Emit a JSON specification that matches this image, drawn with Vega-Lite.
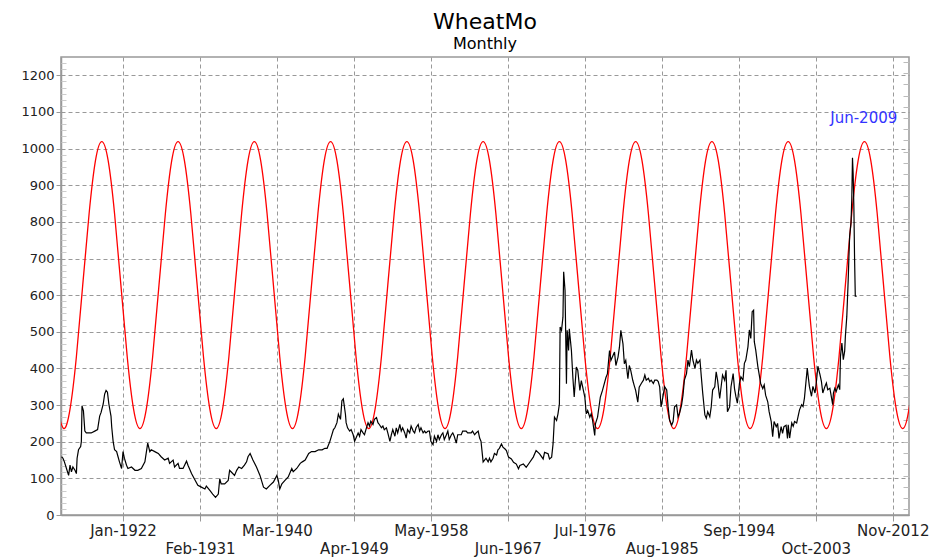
{
  "$schema": "https://vega.github.io/schema/vega-lite/v6.json",
  "width": 848,
  "height": 458,
  "autosize": {"type": "none"},
  "padding": {"left": 61, "top": 57, "right": 26, "bottom": 45},
  "background": "white",
  "title": {
    "text": "WheatMo",
    "subtitle": "Monthly",
    "anchor": "middle",
    "font": "DejaVu Sans",
    "fontSize": 22,
    "fontWeight": "normal",
    "color": "#000000",
    "subtitleFont": "DejaVu Sans",
    "subtitleFontSize": 16,
    "subtitleColor": "#000000",
    "subtitlePadding": 2,
    "offset": 4
  },
  "config": {
    "view": {"stroke": "#999999", "strokeWidth": 1.5}
  },
  "datasets": {
    "cycle": [
      {"date": "1914-04", "value": 289}, {"date": "1915-01", "value": 236}, {"date": "1915-10", "value": 289}, {"date": "1916-07", "value": 432},
      {"date": "1917-04", "value": 628}, {"date": "1918-01", "value": 823}, {"date": "1918-10", "value": 967}, {"date": "1919-07", "value": 1019},
      {"date": "1920-04", "value": 967}, {"date": "1921-01", "value": 823}, {"date": "1921-10", "value": 628}, {"date": "1922-07", "value": 432},
      {"date": "1923-04", "value": 289}, {"date": "1924-01", "value": 236}, {"date": "1924-10", "value": 289}, {"date": "1925-07", "value": 432},
      {"date": "1926-04", "value": 628}, {"date": "1927-01", "value": 823}, {"date": "1927-10", "value": 967}, {"date": "1928-07", "value": 1019},
      {"date": "1929-04", "value": 967}, {"date": "1930-01", "value": 823}, {"date": "1930-10", "value": 628}, {"date": "1931-07", "value": 432},
      {"date": "1932-04", "value": 289}, {"date": "1933-01", "value": 236}, {"date": "1933-10", "value": 289}, {"date": "1934-07", "value": 432},
      {"date": "1935-04", "value": 628}, {"date": "1936-01", "value": 823}, {"date": "1936-10", "value": 967}, {"date": "1937-07", "value": 1019},
      {"date": "1938-04", "value": 967}, {"date": "1939-01", "value": 823}, {"date": "1939-10", "value": 628}, {"date": "1940-07", "value": 432},
      {"date": "1941-04", "value": 289}, {"date": "1942-01", "value": 236}, {"date": "1942-10", "value": 289}, {"date": "1943-07", "value": 432},
      {"date": "1944-04", "value": 628}, {"date": "1945-01", "value": 823}, {"date": "1945-10", "value": 967}, {"date": "1946-07", "value": 1019},
      {"date": "1947-04", "value": 967}, {"date": "1948-01", "value": 823}, {"date": "1948-10", "value": 628}, {"date": "1949-07", "value": 432},
      {"date": "1950-04", "value": 289}, {"date": "1951-01", "value": 236}, {"date": "1951-10", "value": 289}, {"date": "1952-07", "value": 432},
      {"date": "1953-04", "value": 628}, {"date": "1954-01", "value": 823}, {"date": "1954-10", "value": 967}, {"date": "1955-07", "value": 1019},
      {"date": "1956-04", "value": 967}, {"date": "1957-01", "value": 823}, {"date": "1957-10", "value": 628}, {"date": "1958-07", "value": 432},
      {"date": "1959-04", "value": 289}, {"date": "1960-01", "value": 236}, {"date": "1960-10", "value": 289}, {"date": "1961-07", "value": 432},
      {"date": "1962-04", "value": 628}, {"date": "1963-01", "value": 823}, {"date": "1963-10", "value": 967}, {"date": "1964-07", "value": 1019},
      {"date": "1965-04", "value": 967}, {"date": "1966-01", "value": 823}, {"date": "1966-10", "value": 628}, {"date": "1967-07", "value": 432},
      {"date": "1968-04", "value": 289}, {"date": "1969-01", "value": 236}, {"date": "1969-10", "value": 289}, {"date": "1970-07", "value": 432},
      {"date": "1971-04", "value": 628}, {"date": "1972-01", "value": 823}, {"date": "1972-10", "value": 967}, {"date": "1973-07", "value": 1019},
      {"date": "1974-04", "value": 967}, {"date": "1975-01", "value": 823}, {"date": "1975-10", "value": 628}, {"date": "1976-07", "value": 432},
      {"date": "1977-04", "value": 289}, {"date": "1978-01", "value": 236}, {"date": "1978-10", "value": 289}, {"date": "1979-07", "value": 432},
      {"date": "1980-04", "value": 628}, {"date": "1981-01", "value": 823}, {"date": "1981-10", "value": 967}, {"date": "1982-07", "value": 1019},
      {"date": "1983-04", "value": 967}, {"date": "1984-01", "value": 823}, {"date": "1984-10", "value": 628}, {"date": "1985-07", "value": 432},
      {"date": "1986-04", "value": 289}, {"date": "1987-01", "value": 236}, {"date": "1987-10", "value": 289}, {"date": "1988-07", "value": 432},
      {"date": "1989-04", "value": 628}, {"date": "1990-01", "value": 823}, {"date": "1990-10", "value": 967}, {"date": "1991-07", "value": 1019},
      {"date": "1992-04", "value": 967}, {"date": "1993-01", "value": 823}, {"date": "1993-10", "value": 628}, {"date": "1994-07", "value": 432},
      {"date": "1995-04", "value": 289}, {"date": "1996-01", "value": 236}, {"date": "1996-10", "value": 289}, {"date": "1997-07", "value": 432},
      {"date": "1998-04", "value": 628}, {"date": "1999-01", "value": 823}, {"date": "1999-10", "value": 967}, {"date": "2000-07", "value": 1019},
      {"date": "2001-04", "value": 967}, {"date": "2002-01", "value": 823}, {"date": "2002-10", "value": 628}, {"date": "2003-07", "value": 432},
      {"date": "2004-04", "value": 289}, {"date": "2005-01", "value": 236}, {"date": "2005-10", "value": 289}, {"date": "2006-07", "value": 432},
      {"date": "2007-04", "value": 628}, {"date": "2008-01", "value": 823}, {"date": "2008-10", "value": 967}, {"date": "2009-07", "value": 1019},
      {"date": "2010-04", "value": 967}, {"date": "2011-01", "value": 823}, {"date": "2011-10", "value": 628}, {"date": "2012-07", "value": 432},
      {"date": "2013-04", "value": 289}, {"date": "2014-01", "value": 236}, {"date": "2014-10", "value": 289}, {"date": "2015-07", "value": 432}
    ],
    "wheat": [
      {"date": "1914-10", "value": 159}, {"date": "1914-12", "value": 155}, {"date": "1915-02", "value": 145}, {"date": "1915-05", "value": 127},
      {"date": "1915-08", "value": 108}, {"date": "1915-10", "value": 136}, {"date": "1915-12", "value": 118}, {"date": "1916-02", "value": 131},
      {"date": "1916-05", "value": 122}, {"date": "1916-07", "value": 113}, {"date": "1916-08", "value": 155}, {"date": "1916-10", "value": 178},
      {"date": "1917-01", "value": 187}, {"date": "1917-02", "value": 201}, {"date": "1917-03", "value": 298}, {"date": "1917-05", "value": 284},
      {"date": "1917-07", "value": 229}, {"date": "1917-09", "value": 224}, {"date": "1918-04", "value": 224}, {"date": "1918-09", "value": 229},
      {"date": "1919-01", "value": 233}, {"date": "1919-04", "value": 270}, {"date": "1919-06", "value": 280}, {"date": "1919-09", "value": 303},
      {"date": "1919-11", "value": 330}, {"date": "1920-01", "value": 340}, {"date": "1920-03", "value": 335}, {"date": "1920-05", "value": 303},
      {"date": "1920-08", "value": 270}, {"date": "1920-09", "value": 240}, {"date": "1920-11", "value": 201}, {"date": "1921-01", "value": 178},
      {"date": "1921-04", "value": 173}, {"date": "1921-06", "value": 159}, {"date": "1921-08", "value": 145}, {"date": "1921-11", "value": 127},
      {"date": "1922-01", "value": 173}, {"date": "1922-03", "value": 155}, {"date": "1922-06", "value": 136}, {"date": "1922-08", "value": 127},
      {"date": "1923-01", "value": 131}, {"date": "1923-06", "value": 122}, {"date": "1923-10", "value": 122}, {"date": "1924-03", "value": 127},
      {"date": "1924-08", "value": 145}, {"date": "1924-12", "value": 196}, {"date": "1925-03", "value": 173}, {"date": "1925-05", "value": 178},
      {"date": "1925-10", "value": 173}, {"date": "1926-03", "value": 168}, {"date": "1926-07", "value": 159}, {"date": "1926-12", "value": 150},
      {"date": "1927-05", "value": 155}, {"date": "1927-07", "value": 141}, {"date": "1927-12", "value": 150}, {"date": "1928-02", "value": 131},
      {"date": "1928-07", "value": 141}, {"date": "1928-09", "value": 127}, {"date": "1929-02", "value": 127}, {"date": "1929-07", "value": 147},
      {"date": "1929-09", "value": 136}, {"date": "1929-11", "value": 127}, {"date": "1930-02", "value": 113}, {"date": "1930-06", "value": 99},
      {"date": "1930-11", "value": 81}, {"date": "1931-04", "value": 76}, {"date": "1931-09", "value": 71}, {"date": "1931-11", "value": 79},
      {"date": "1932-04", "value": 67}, {"date": "1932-08", "value": 57}, {"date": "1932-12", "value": 48}, {"date": "1933-04", "value": 57},
      {"date": "1933-06", "value": 99}, {"date": "1933-08", "value": 85}, {"date": "1934-01", "value": 85}, {"date": "1934-06", "value": 94},
      {"date": "1934-08", "value": 122}, {"date": "1934-10", "value": 118}, {"date": "1935-03", "value": 108}, {"date": "1935-06", "value": 122},
      {"date": "1935-09", "value": 131}, {"date": "1936-01", "value": 127}, {"date": "1936-05", "value": 136}, {"date": "1936-08", "value": 145},
      {"date": "1936-10", "value": 159}, {"date": "1937-01", "value": 168}, {"date": "1937-05", "value": 150}, {"date": "1937-10", "value": 131},
      {"date": "1938-03", "value": 108}, {"date": "1938-08", "value": 76}, {"date": "1938-12", "value": 71}, {"date": "1939-05", "value": 81},
      {"date": "1939-10", "value": 90}, {"date": "1940-03", "value": 108}, {"date": "1940-05", "value": 94}, {"date": "1940-07", "value": 71},
      {"date": "1940-10", "value": 85}, {"date": "1941-02", "value": 94}, {"date": "1941-07", "value": 104}, {"date": "1941-12", "value": 127},
      {"date": "1942-02", "value": 118}, {"date": "1942-07", "value": 127}, {"date": "1942-12", "value": 141}, {"date": "1943-03", "value": 145},
      {"date": "1943-07", "value": 150}, {"date": "1943-12", "value": 168}, {"date": "1944-04", "value": 173}, {"date": "1944-09", "value": 173},
      {"date": "1945-02", "value": 178}, {"date": "1945-07", "value": 178}, {"date": "1945-11", "value": 182}, {"date": "1946-02", "value": 182},
      {"date": "1946-06", "value": 201}, {"date": "1946-11", "value": 233}, {"date": "1947-01", "value": 238}, {"date": "1947-04", "value": 252},
      {"date": "1947-06", "value": 275}, {"date": "1947-09", "value": 261}, {"date": "1947-11", "value": 312}, {"date": "1948-01", "value": 317},
      {"date": "1948-04", "value": 275}, {"date": "1948-05", "value": 252}, {"date": "1948-07", "value": 238}, {"date": "1948-10", "value": 229},
      {"date": "1948-12", "value": 233}, {"date": "1949-03", "value": 219}, {"date": "1949-05", "value": 201}, {"date": "1949-07", "value": 210},
      {"date": "1949-10", "value": 224}, {"date": "1949-12", "value": 215}, {"date": "1950-02", "value": 233}, {"date": "1950-05", "value": 224},
      {"date": "1950-07", "value": 219}, {"date": "1950-09", "value": 233}, {"date": "1950-12", "value": 252}, {"date": "1951-02", "value": 243},
      {"date": "1951-04", "value": 256}, {"date": "1951-07", "value": 247}, {"date": "1951-09", "value": 261}, {"date": "1951-12", "value": 266},
      {"date": "1952-02", "value": 252}, {"date": "1952-04", "value": 247}, {"date": "1952-07", "value": 238}, {"date": "1952-09", "value": 243},
      {"date": "1952-11", "value": 233}, {"date": "1953-02", "value": 238}, {"date": "1953-04", "value": 224}, {"date": "1953-07", "value": 201},
      {"date": "1953-09", "value": 219}, {"date": "1953-11", "value": 233}, {"date": "1954-02", "value": 215}, {"date": "1954-04", "value": 238},
      {"date": "1954-06", "value": 224}, {"date": "1954-09", "value": 247}, {"date": "1954-11", "value": 229}, {"date": "1955-01", "value": 238},
      {"date": "1955-04", "value": 224}, {"date": "1955-06", "value": 210}, {"date": "1955-08", "value": 233}, {"date": "1955-11", "value": 224},
      {"date": "1956-01", "value": 243}, {"date": "1956-04", "value": 229}, {"date": "1956-06", "value": 224}, {"date": "1956-08", "value": 238},
      {"date": "1956-11", "value": 247}, {"date": "1957-01", "value": 229}, {"date": "1957-03", "value": 238}, {"date": "1957-06", "value": 224},
      {"date": "1957-08", "value": 229}, {"date": "1957-10", "value": 224}, {"date": "1958-01", "value": 229}, {"date": "1958-03", "value": 229},
      {"date": "1958-05", "value": 201}, {"date": "1958-08", "value": 192}, {"date": "1958-10", "value": 215}, {"date": "1959-01", "value": 201},
      {"date": "1959-03", "value": 219}, {"date": "1959-05", "value": 206}, {"date": "1959-08", "value": 219}, {"date": "1959-10", "value": 224},
      {"date": "1959-12", "value": 206}, {"date": "1960-03", "value": 219}, {"date": "1960-05", "value": 229}, {"date": "1960-07", "value": 206},
      {"date": "1960-10", "value": 219}, {"date": "1960-12", "value": 224}, {"date": "1961-02", "value": 215}, {"date": "1961-05", "value": 196},
      {"date": "1961-07", "value": 219}, {"date": "1961-10", "value": 219}, {"date": "1961-12", "value": 219}, {"date": "1962-02", "value": 229},
      {"date": "1962-07", "value": 229}, {"date": "1962-09", "value": 224}, {"date": "1962-12", "value": 224}, {"date": "1963-02", "value": 224},
      {"date": "1963-04", "value": 229}, {"date": "1963-07", "value": 219}, {"date": "1963-09", "value": 224}, {"date": "1963-12", "value": 229},
      {"date": "1964-02", "value": 210}, {"date": "1964-04", "value": 201}, {"date": "1964-07", "value": 145}, {"date": "1964-09", "value": 150},
      {"date": "1964-11", "value": 155}, {"date": "1965-02", "value": 145}, {"date": "1965-04", "value": 155}, {"date": "1965-06", "value": 145},
      {"date": "1965-09", "value": 155}, {"date": "1965-11", "value": 168}, {"date": "1966-02", "value": 164}, {"date": "1966-04", "value": 178},
      {"date": "1966-06", "value": 182}, {"date": "1966-09", "value": 194}, {"date": "1966-11", "value": 185}, {"date": "1967-02", "value": 180},
      {"date": "1967-04", "value": 176}, {"date": "1967-07", "value": 158}, {"date": "1967-11", "value": 153}, {"date": "1968-02", "value": 144},
      {"date": "1968-06", "value": 139}, {"date": "1968-09", "value": 126}, {"date": "1968-11", "value": 135}, {"date": "1969-04", "value": 139},
      {"date": "1969-08", "value": 130}, {"date": "1970-01", "value": 144}, {"date": "1970-06", "value": 158}, {"date": "1970-10", "value": 176},
      {"date": "1971-03", "value": 167}, {"date": "1971-08", "value": 153}, {"date": "1971-10", "value": 171}, {"date": "1972-03", "value": 167},
      {"date": "1972-05", "value": 153}, {"date": "1972-08", "value": 158}, {"date": "1972-10", "value": 194}, {"date": "1972-12", "value": 267},
      {"date": "1973-03", "value": 258}, {"date": "1973-05", "value": 276}, {"date": "1973-07", "value": 303}, {"date": "1973-08", "value": 513},
      {"date": "1973-10", "value": 504}, {"date": "1973-12", "value": 540}, {"date": "1974-01", "value": 664}, {"date": "1974-03", "value": 613},
      {"date": "1974-05", "value": 358}, {"date": "1974-06", "value": 504}, {"date": "1974-08", "value": 449}, {"date": "1974-09", "value": 508},
      {"date": "1974-12", "value": 449}, {"date": "1975-02", "value": 376}, {"date": "1975-04", "value": 322}, {"date": "1975-07", "value": 404},
      {"date": "1975-09", "value": 395}, {"date": "1975-12", "value": 340}, {"date": "1976-02", "value": 367}, {"date": "1976-04", "value": 349},
      {"date": "1976-07", "value": 322}, {"date": "1976-09", "value": 276}, {"date": "1976-11", "value": 285}, {"date": "1977-02", "value": 267},
      {"date": "1977-04", "value": 276}, {"date": "1977-06", "value": 258}, {"date": "1977-09", "value": 217}, {"date": "1977-10", "value": 249},
      {"date": "1978-01", "value": 267}, {"date": "1978-05", "value": 322}, {"date": "1978-08", "value": 340}, {"date": "1979-01", "value": 376},
      {"date": "1979-03", "value": 385}, {"date": "1979-06", "value": 449}, {"date": "1979-08", "value": 422}, {"date": "1979-10", "value": 431},
      {"date": "1980-01", "value": 445}, {"date": "1980-03", "value": 408}, {"date": "1980-06", "value": 431}, {"date": "1980-08", "value": 458},
      {"date": "1980-10", "value": 504}, {"date": "1981-01", "value": 467}, {"date": "1981-03", "value": 413}, {"date": "1981-05", "value": 422},
      {"date": "1981-08", "value": 372}, {"date": "1981-10", "value": 408}, {"date": "1981-12", "value": 395}, {"date": "1982-03", "value": 367},
      {"date": "1982-05", "value": 353}, {"date": "1982-07", "value": 340}, {"date": "1982-10", "value": 308}, {"date": "1982-12", "value": 349},
      {"date": "1983-03", "value": 359}, {"date": "1983-06", "value": 368}, {"date": "1983-08", "value": 382}, {"date": "1983-10", "value": 368},
      {"date": "1984-01", "value": 373}, {"date": "1984-03", "value": 364}, {"date": "1984-05", "value": 368}, {"date": "1984-08", "value": 359},
      {"date": "1984-10", "value": 368}, {"date": "1985-01", "value": 368}, {"date": "1985-03", "value": 364}, {"date": "1985-05", "value": 350},
      {"date": "1985-07", "value": 295}, {"date": "1985-10", "value": 327}, {"date": "1985-12", "value": 350}, {"date": "1986-03", "value": 341},
      {"date": "1986-05", "value": 295}, {"date": "1986-07", "value": 259}, {"date": "1986-10", "value": 245}, {"date": "1986-12", "value": 255},
      {"date": "1987-02", "value": 295}, {"date": "1987-05", "value": 300}, {"date": "1987-07", "value": 268}, {"date": "1987-09", "value": 277},
      {"date": "1987-12", "value": 300}, {"date": "1988-02", "value": 327}, {"date": "1988-04", "value": 368}, {"date": "1988-07", "value": 386},
      {"date": "1988-09", "value": 423}, {"date": "1988-11", "value": 405}, {"date": "1989-02", "value": 450}, {"date": "1989-04", "value": 423},
      {"date": "1989-07", "value": 400}, {"date": "1989-09", "value": 423}, {"date": "1989-11", "value": 414}, {"date": "1990-02", "value": 423},
      {"date": "1990-04", "value": 377}, {"date": "1990-06", "value": 332}, {"date": "1990-09", "value": 273}, {"date": "1990-11", "value": 264},
      {"date": "1991-01", "value": 282}, {"date": "1991-04", "value": 268}, {"date": "1991-06", "value": 295}, {"date": "1991-08", "value": 341},
      {"date": "1991-11", "value": 350}, {"date": "1992-01", "value": 391}, {"date": "1992-03", "value": 368}, {"date": "1992-06", "value": 318},
      {"date": "1992-08", "value": 350}, {"date": "1992-10", "value": 382}, {"date": "1993-01", "value": 368}, {"date": "1993-03", "value": 395},
      {"date": "1993-05", "value": 282}, {"date": "1993-08", "value": 295}, {"date": "1993-10", "value": 350}, {"date": "1994-01", "value": 386},
      {"date": "1994-03", "value": 345}, {"date": "1994-05", "value": 323}, {"date": "1994-07", "value": 305}, {"date": "1994-10", "value": 359},
      {"date": "1994-12", "value": 377}, {"date": "1995-03", "value": 368}, {"date": "1995-05", "value": 414}, {"date": "1995-07", "value": 423},
      {"date": "1995-10", "value": 459}, {"date": "1995-12", "value": 505}, {"date": "1996-02", "value": 482}, {"date": "1996-04", "value": 555},
      {"date": "1996-06", "value": 559}, {"date": "1996-07", "value": 473}, {"date": "1996-09", "value": 450}, {"date": "1996-12", "value": 405},
      {"date": "1997-02", "value": 382}, {"date": "1997-04", "value": 359}, {"date": "1997-07", "value": 345}, {"date": "1997-09", "value": 355},
      {"date": "1997-11", "value": 327}, {"date": "1998-02", "value": 309}, {"date": "1998-04", "value": 282}, {"date": "1998-07", "value": 255},
      {"date": "1998-09", "value": 214}, {"date": "1998-11", "value": 255}, {"date": "1999-02", "value": 241}, {"date": "1999-04", "value": 250},
      {"date": "1999-06", "value": 209}, {"date": "1999-09", "value": 241}, {"date": "1999-11", "value": 223}, {"date": "2000-01", "value": 241},
      {"date": "2000-04", "value": 245}, {"date": "2000-06", "value": 209}, {"date": "2000-07", "value": 246}, {"date": "2000-09", "value": 210},
      {"date": "2000-12", "value": 251}, {"date": "2001-02", "value": 242}, {"date": "2001-04", "value": 255}, {"date": "2001-07", "value": 251},
      {"date": "2001-09", "value": 269}, {"date": "2001-11", "value": 287}, {"date": "2002-02", "value": 301}, {"date": "2002-04", "value": 296},
      {"date": "2002-06", "value": 319}, {"date": "2002-08", "value": 360}, {"date": "2002-10", "value": 401}, {"date": "2002-11", "value": 383},
      {"date": "2003-01", "value": 351}, {"date": "2003-04", "value": 324}, {"date": "2003-06", "value": 351}, {"date": "2003-09", "value": 333},
      {"date": "2003-11", "value": 365}, {"date": "2004-01", "value": 406}, {"date": "2004-04", "value": 383}, {"date": "2004-06", "value": 365},
      {"date": "2004-08", "value": 333}, {"date": "2004-11", "value": 351}, {"date": "2005-01", "value": 360}, {"date": "2005-03", "value": 342},
      {"date": "2005-06", "value": 346}, {"date": "2005-08", "value": 324}, {"date": "2005-10", "value": 301}, {"date": "2005-11", "value": 333},
      {"date": "2006-01", "value": 346}, {"date": "2006-03", "value": 337}, {"date": "2006-06", "value": 355}, {"date": "2006-08", "value": 342},
      {"date": "2006-09", "value": 433}, {"date": "2006-11", "value": 469}, {"date": "2007-01", "value": 424}, {"date": "2007-03", "value": 447},
      {"date": "2007-04", "value": 488}, {"date": "2007-06", "value": 542}, {"date": "2007-08", "value": 643}, {"date": "2007-09", "value": 706},
      {"date": "2007-10", "value": 761}, {"date": "2007-12", "value": 798}, {"date": "2008-01", "value": 861}, {"date": "2008-02", "value": 975},
      {"date": "2008-03", "value": 930}, {"date": "2008-04", "value": 840}, {"date": "2008-05", "value": 700}, {"date": "2008-06", "value": 597},
      {"date": "2008-08", "value": 597}
    ],
    "note": [
      {"date": "2009-06", "value": 1083, "label": "Jun-2009"}
    ]
  },
  "layer": [
    {
      "data": {"name": "cycle"},
      "mark": {"type": "line", "color": "#ff0000", "strokeWidth": 1.3, "interpolate": "natural", "clip": true},
      "encoding": {
        "x": {
          "field": "date",
          "type": "temporal",
          "scale": {
            "type": "utc",
            "nice": false,
            "domain": [
              {"year": 1914, "month": 9, "date": 7, "utc": true},
              {"year": 2014, "month": 10, "date": 3, "utc": true}
            ]
          },
          "axis": {
            "orient": "bottom",
            "title": null,
            "values": [
              {"year": 1922, "month": 1, "date": 1, "utc": true},
              {"year": 1931, "month": 2, "date": 1, "utc": true},
              {"year": 1940, "month": 3, "date": 1, "utc": true},
              {"year": 1949, "month": 4, "date": 1, "utc": true},
              {"year": 1958, "month": 5, "date": 1, "utc": true},
              {"year": 1967, "month": 6, "date": 1, "utc": true},
              {"year": 1976, "month": 7, "date": 1, "utc": true},
              {"year": 1985, "month": 8, "date": 1, "utc": true},
              {"year": 1994, "month": 9, "date": 1, "utc": true},
              {"year": 2003, "month": 10, "date": 1, "utc": true},
              {"year": 2012, "month": 11, "date": 1, "utc": true}
            ],
            "labelExpr": "utcyear(datum.value) % 2 == 1 ? ['', utcFormat(datum.value, '%b-%Y')] : utcFormat(datum.value, '%b-%Y')",
            "grid": true,
            "gridColor": "#999999",
            "gridDash": [4, 3],
            "gridWidth": 1,
            "domainColor": "#999999",
            "domainWidth": 1.5,
            "tickColor": "#999999",
            "tickSize": 6,
            "labelFont": "DejaVu Sans",
            "labelFontSize": 15,
            "labelColor": "#222222",
            "labelPadding": 2,
            "labelLineHeight": 18,
            "labelAlign": "center",
            "labelBaseline": "top",
            "labelOverlap": false,
            "labelFlush": false
          }
        },
        "y": {
          "field": "value",
          "type": "quantitative",
          "scale": {"domain": [0, 1250], "nice": false, "zero": true},
          "axis": {
            "orient": "left",
            "title": null,
            "format": "d",
            "values": [0, 100, 200, 300, 400, 500, 600, 700, 800, 900, 1000, 1100, 1200],
            "grid": true,
            "gridColor": "#999999",
            "gridDash": [4, 3],
            "gridWidth": 1,
            "domainColor": "#999999",
            "domainWidth": 1.5,
            "tickColor": "#999999",
            "tickSize": 5,
            "labelFont": "DejaVu Sans",
            "labelFontSize": 13,
            "labelColor": "#222222",
            "labelPadding": 2,
            "labelOverlap": false
          }
        }
      }
    },
    {
      "data": {"name": "wheat"},
      "mark": {"type": "line", "color": "#000000", "strokeWidth": 1.2, "clip": true},
      "encoding": {
        "x": {"field": "date", "type": "temporal", "axis": null},
        "y": {
          "field": "value",
          "type": "quantitative",
          "axis": {
            "orient": "left",
            "title": null,
            "values": [16.67, 33.33, 50, 66.67, 83.33, 116.67, 133.33, 150, 166.67, 183.33, 216.67, 233.33, 250, 266.67, 283.33, 316.67, 333.33, 350, 366.67, 383.33, 416.67, 433.33, 450, 466.67, 483.33, 516.67, 533.33, 550, 566.67, 583.33, 616.67, 633.33, 650, 666.67, 683.33, 716.67, 733.33, 750, 766.67, 783.33, 816.67, 833.33, 850, 866.67, 883.33, 916.67, 933.33, 950, 966.67, 983.33, 1016.67, 1033.33, 1050, 1066.67, 1083.33, 1116.67, 1133.33, 1150, 1166.67, 1183.33, 1216.67, 1233.33],
            "grid": false,
            "labels": false,
            "domain": false,
            "tickColor": "#cccccc",
            "tickSize": -5
          }
        }
      }
    },
    {
      "data": {"name": "note"},
      "mark": {"type": "text", "color": "#3333ff", "font": "DejaVu Sans", "fontSize": 15, "align": "center", "baseline": "middle"},
      "encoding": {
        "x": {"field": "date", "type": "temporal", "axis": null},
        "y": {
          "field": "value",
          "type": "quantitative",
          "axis": {
            "orient": "right",
            "title": null,
            "values": [16, 46.5, 77, 107.5, 138, 168.5, 199, 229.5, 260, 290.5, 321, 351.5, 382, 412.5, 443, 473.5, 504, 534.5, 565, 595.5, 626, 656.5, 687, 717.5, 748, 778.5, 809, 839.5, 870, 900.5, 931, 961.5, 992, 1022.5, 1053, 1083.5, 1114, 1144.5, 1175, 1205.5, 1236],
            "grid": false,
            "labels": false,
            "domain": false,
            "tickColor": "#bbbbbb",
            "tickSize": -6
          }
        },
        "text": {"field": "label"}
      }
    }
  ],
  "resolve": {"axis": {"x": "independent", "y": "independent"}}
}
